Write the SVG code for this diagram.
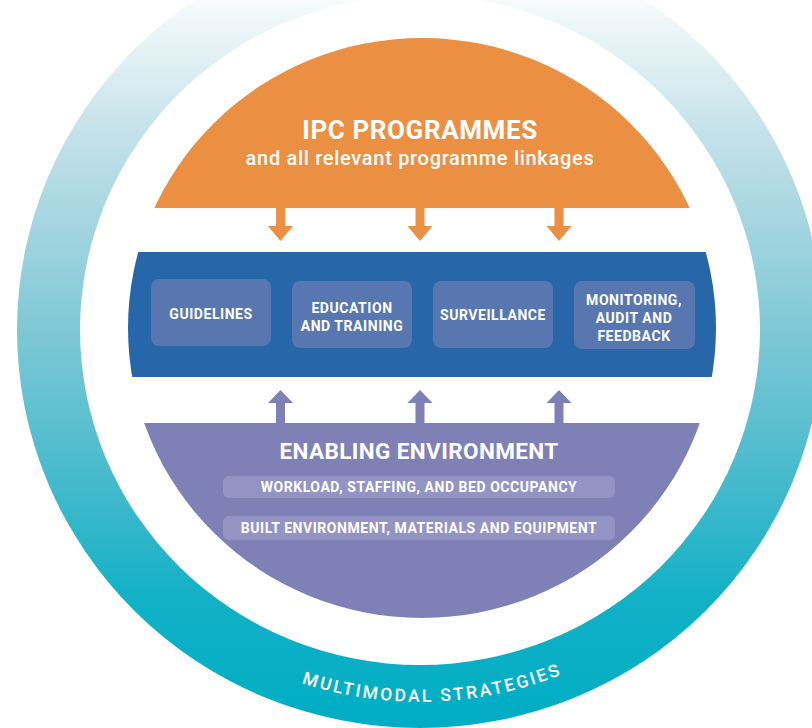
<svg xmlns="http://www.w3.org/2000/svg" width="812" height="728" viewBox="0 0 812 728">
  <defs>
    <linearGradient id="ringGrad" gradientUnits="userSpaceOnUse" x1="0" y1="0" x2="0" y2="728">
      <stop offset="0" stop-color="#f7fbfc"/>
      <stop offset="0.21" stop-color="#bddee7"/>
      <stop offset="0.45" stop-color="#80c8d6"/>
      <stop offset="0.69" stop-color="#3db8cb"/>
      <stop offset="0.82" stop-color="#12b1c6"/>
      <stop offset="1" stop-color="#00adc4"/>
    </linearGradient>
    <clipPath id="core">
      <ellipse cx="422" cy="328" rx="294" ry="290"/>
    </clipPath>
    <path id="ringPath" d="M 43 330 A 377 372 0 0 0 797 330"/>
  </defs>
  <style>
    .t { font-family: Roboto, "Liberation Sans", Arial, sans-serif; fill: #ffffff; text-anchor: middle; }
    .b { font-weight: 700; }
    .box { fill: #5877b0; }
    .sub { fill: #9394c4; }
    .orange { fill: #eb8f43; }
    .purple { fill: #7f80b6; }
    .lbl { font-size: 14px; font-weight: 700; letter-spacing: 0.55px; }
  </style>

  <!-- outer ring: multimodal strategies -->
  <g id="ring">
    <ellipse cx="420" cy="330" rx="403" ry="398" fill="url(#ringGrad)"/>
    <ellipse cx="420" cy="330" rx="340" ry="335" fill="#ffffff"/>
    <text class="t" font-size="17.5" font-weight="500" letter-spacing="2.5">
      <textPath href="#ringPath" startOffset="601">MULTIMODAL STRATEGIES</textPath>
    </text>
  </g>

  <!-- top segment: IPC programmes -->
  <g id="ipc-programmes">
    <rect class="orange" x="100" y="0" width="650" height="208" clip-path="url(#core)"/>
    <text class="t b" x="420" y="139" font-size="26" letter-spacing="0.6">IPC PROGRAMMES</text>
    <text class="t" x="420" y="165" font-size="20" font-weight="500" letter-spacing="0.7">and all relevant programme linkages</text>
  </g>

  <!-- middle band: core components -->
  <g id="core-band">
    <rect x="100" y="252" width="650" height="125" fill="#2766a8" clip-path="url(#core)"/>
  </g>
  <g id="guidelines">
    <rect class="box" x="151" y="279" width="120" height="67" rx="8"/>
    <text class="t lbl" x="211" y="319">GUIDELINES</text>
  </g>
  <g id="education-training">
    <rect class="box" x="292" y="281" width="120" height="67" rx="8"/>
    <text class="t lbl" x="352" y="313">EDUCATION</text>
    <text class="t lbl" x="352" y="331">AND TRAINING</text>
  </g>
  <g id="surveillance">
    <rect class="box" x="433" y="281" width="120" height="67" rx="8"/>
    <text class="t lbl" x="493" y="320">SURVEILLANCE</text>
  </g>
  <g id="monitoring">
    <rect class="box" x="574" y="281" width="121" height="68" rx="8"/>
    <text class="t lbl" x="634" y="305">MONITORING,</text>
    <text class="t lbl" x="634" y="323">AUDIT AND</text>
    <text class="t lbl" x="634" y="341">FEEDBACK</text>
  </g>

  <!-- bottom segment: enabling environment -->
  <g id="enabling-environment">
    <rect class="purple" x="100" y="423" width="650" height="300" clip-path="url(#core)"/>
    <text class="t b" x="419" y="459" font-size="22.5" letter-spacing="0.4">ENABLING ENVIRONMENT</text>
    <rect class="sub" x="223" y="476" width="392" height="22" rx="6"/>
    <text class="t lbl" x="419" y="492">WORKLOAD, STAFFING, AND BED OCCUPANCY</text>
    <rect class="sub" x="223" y="516" width="392" height="24" rx="6"/>
    <text class="t lbl" x="419" y="533">BUILT ENVIRONMENT, MATERIALS AND EQUIPMENT</text>
  </g>

  <!-- connectors -->
  <g id="connectors">
    <path class="orange" d="M276 207 h9 v19 h8 l-12.5 15 l-12.5 -15 h8 z"/>
    <path class="orange" d="M415.5 207 h9 v19 h8 l-12.5 15 l-12.5 -15 h8 z"/>
    <path class="orange" d="M554.5 207 h9 v19 h8 l-12.5 15 l-12.5 -15 h8 z"/>
    <path class="purple" d="M276 424 h9 v-21 h8 l-12.5 -13 l-12.5 13 h8 z"/>
    <path class="purple" d="M415.5 424 h9 v-21 h8 l-12.5 -13 l-12.5 13 h8 z"/>
    <path class="purple" d="M554.5 424 h9 v-21 h8 l-12.5 -13 l-12.5 13 h8 z"/>
  </g>
</svg>
